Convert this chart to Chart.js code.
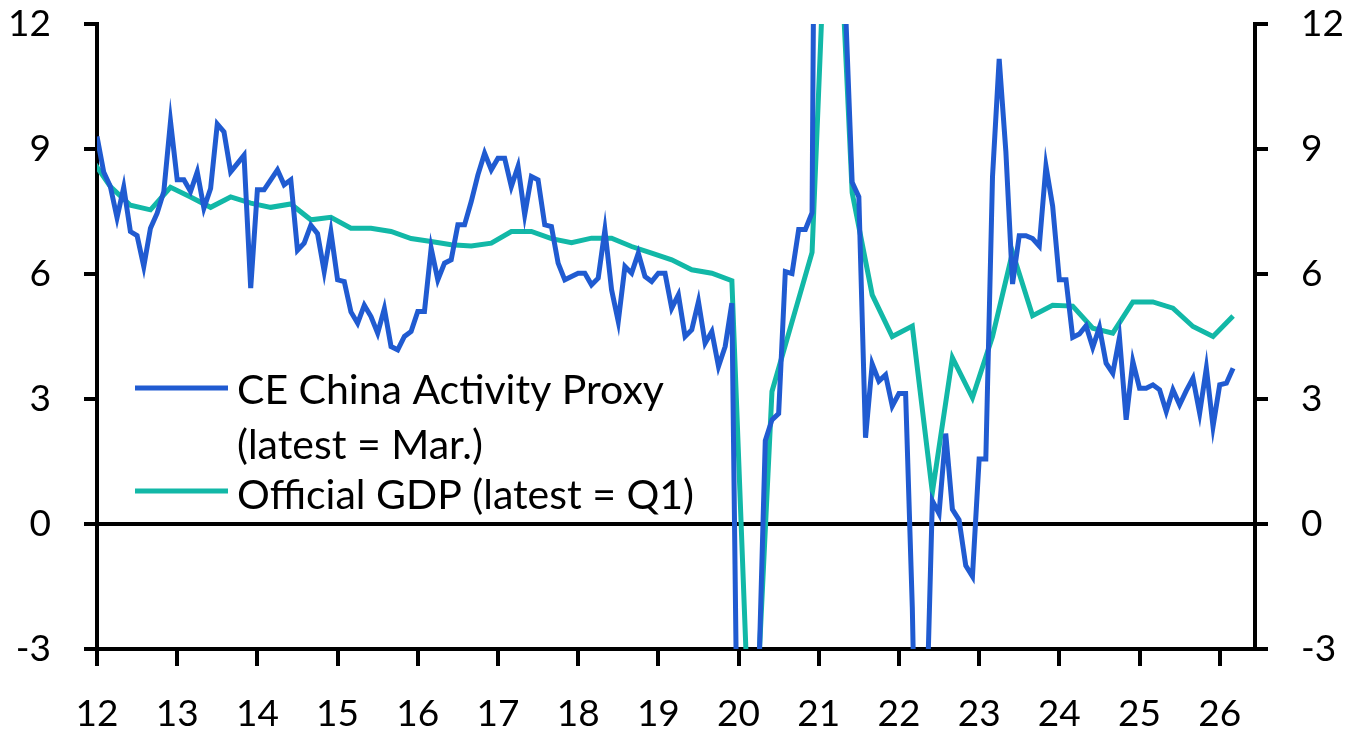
<!DOCTYPE html>
<html>
<head>
<meta charset="utf-8">
<script src="https://cdn.jsdelivr.net/npm/chart.js@4.4.0/dist/chart.umd.min.js"></script>
<style>
  html, body { margin: 0; padding: 0; background: #fff; }
</style>
</head>
<body>
<canvas id="chart" width="1348" height="734"></canvas>
<script>
// DATA (y/y %)
const proxyStartYear = 2012; // monthly, Jan 2012 .. Mar 2026
const proxyValues = [
  9.3, 8.45, 8.1, 7.35, 8.08, 7.02, 6.92, 6.18, 7.1, 7.46, 7.98, 9.66,      // 2012
  8.26, 8.26, 7.98, 8.45, 7.58, 8.05, 9.6, 9.41, 8.45, 8.65, 8.85, 5.66,    // 2013
  8.02, 8.02, 8.26, 8.5, 8.14, 8.26, 6.57, 6.74, 7.17, 6.97, 6.06, 7.01,    // 2014
  5.86, 5.82, 5.09, 4.82, 5.25, 4.98, 4.58, 5.17, 4.26, 4.18, 4.5, 4.62,    // 2015
  5.1, 5.1, 6.62, 5.86, 6.26, 6.34, 7.18, 7.18, 7.74, 8.38, 8.9, 8.5,       // 2016
  8.78, 8.78, 8.1, 8.58, 7.42, 8.34, 8.26, 7.18, 7.14, 6.26, 5.86, 5.94,    // 2017
  6.02, 6.02, 5.74, 5.9, 7.06, 5.62, 4.86, 6.18, 6.02, 6.5, 5.94, 5.82,     // 2018
  6.02, 6.02, 5.18, 5.5, 4.5, 4.66, 5.34, 4.34, 4.62, 3.78, 4.26, 5.3,      // 2019
  -8, -14, -8, -3.8, 2.0, 2.5, 2.65, 6.06, 6.01, 7.07, 7.07, 7.47,          // 2020
  31, 31, 16, 14, 12.4, 8.2, 7.85, 2.07, 3.84, 3.43, 3.58, 2.83,            // 2021
  3.13, 3.13, -2.0, -10, -5.4, 0.56, 0.25, 2.17, 0.35, 0.1, -1.0, -1.26,    // 2022
  1.56, 1.56, 8.33, 11.16, 8.94, 5.76, 6.92, 6.92, 6.85, 6.67, 8.59, 7.63,  // 2023
  5.86, 5.86, 4.48, 4.56, 4.76, 4.24, 4.72, 3.86, 3.62, 4.48, 2.5, 3.9,     // 2024
  3.26, 3.26, 3.34, 3.22, 2.7, 3.22, 2.86, 3.2, 3.5, 2.66, 3.74, 2.34,      // 2025
  3.34, 3.38, 3.74                                                          // 2026
];

const gdpFirstQuarter = [2011, 4]; // quarterly, Q4 2011 .. Q1 2026
const gdpValues = [
  8.8,
  8.1, 7.65, 7.54, 8.08,
  7.85, 7.6, 7.85, 7.7,
  7.6, 7.68, 7.3, 7.36,
  7.1, 7.1, 7.02, 6.85,
  6.78, 6.7, 6.67, 6.74,
  7.02, 7.02, 6.85, 6.75,
  6.86, 6.86, 6.66, 6.5,
  6.34, 6.1, 6.02, 5.84,
  -6.8, 3.18, 4.85, 6.52,
  18.3, 7.95, 5.5, 4.5,
  4.75, 0.76, 3.99, 3.03,
  4.5, 6.52, 5.0, 5.25,
  5.23, 4.7, 4.58, 5.33,
  5.33, 5.18, 4.74, 4.5,
  4.99
];

const xTicksFrom = 2012, xTicksTo = 2026;
const yTicks = [-3, 0, 3, 6, 9, 12];
const legendLabels = [["CE China Activity Proxy", "(latest = Mar.)"], ["Official GDP (latest = Q1)"]];

const BLUE = "#205bd1";
const GREEN = "#12b8a7";
const FONT = "Lato";

// BUILD POINTS
const proxyPoints = proxyValues.map((v, i) => ({ x: proxyStartYear + i / 12, y: v }));
const gdpPoints = gdpValues.map((v, i) => {
  const q = gdpFirstQuarter[1] - 1 + i;
  const year = gdpFirstQuarter[0] + Math.floor(q / 4);
  const month = (q % 4) * 3 + 2; // plotted at quarter-end month
  return { x: year + month / 12, y: v };
});

// LEGEND DRAWN INSIDE THE PLOT
const insideLegend = {
  id: "insideLegend",
  afterDraw(chart) {
    const ctx = chart.ctx;
    ctx.save();
    ctx.font = "41px " + FONT;
    ctx.fillStyle = "#000";
    ctx.textBaseline = "alphabetic";
    ctx.lineWidth = 5;

    ctx.strokeStyle = BLUE;
    ctx.beginPath(); ctx.moveTo(135, 388); ctx.lineTo(228, 388); ctx.stroke();
    ctx.fillText(legendLabels[0][0], 237, 404);
    ctx.fillText(legendLabels[0][1], 237, 459);

    ctx.strokeStyle = GREEN;
    ctx.beginPath(); ctx.moveTo(135, 491); ctx.lineTo(228, 491); ctx.stroke();
    ctx.fillText(legendLabels[1][0], 237, 509);
    ctx.restore();
  }
};

const yAxis = (position, width) => ({
  type: "linear",
  position: position,
  min: yTicks[0],
  max: yTicks[yTicks.length - 1],
  afterBuildTicks: (s) => { s.ticks = yTicks.map(v => ({ value: v })); },
  afterFit: (s) => { s.width = width; s.paddingTop = 0; s.paddingBottom = 0; },
  border: { display: true, color: "#000", width: 4 },
  grid: {
    display: true,
    drawOnChartArea: position === "left",
    drawTicks: true,
    tickLength: 13,
    lineWidth: 4,
    color: (c) => (c.tick && c.tick.value === 0 ? "#000" : "rgba(0,0,0,0)"),
    tickColor: "#000"
  },
  ticks: {
    padding: 33,
    color: "#000",
    font: { family: FONT, size: 37 },
    callback: (v) => String(v)
  }
});

new Chart(document.getElementById("chart"), {
  type: "line",
  data: {
    datasets: [
      {
        label: "CE China Activity Proxy",
        data: proxyPoints,
        borderColor: BLUE,
        borderWidth: 5,
        pointRadius: 0,
        tension: 0,
        clip: 0
      },
      {
        label: "Official GDP",
        data: gdpPoints,
        borderColor: GREEN,
        borderWidth: 5,
        pointRadius: 0,
        tension: 0,
        clip: 0
      }
    ]
  },
  options: {
    responsive: false,
    animation: false,
    devicePixelRatio: 1,
    layout: { padding: { top: 24, left: 0, right: 0, bottom: 0 } },
    plugins: { legend: { display: false }, tooltip: { enabled: false } },
    scales: {
      x: {
        type: "linear",
        min: xTicksFrom,
        max: 2026.44,
        afterFit: (s) => { s.height = 85; s.paddingLeft = 0; s.paddingRight = 0; },
        border: { display: true, color: "#000", width: 4 },
        grid: { display: true, drawOnChartArea: false, drawTicks: true, tickLength: 17, lineWidth: 4, color: "#000" },
        ticks: {
          stepSize: 1,
          includeBounds: false,
          autoSkip: false,
          maxRotation: 0,
          padding: 26,
          color: "#000",
          font: { family: FONT, size: 37 },
          callback: (v) => String(Math.round(v) % 100)
        }
      },
      y: yAxis("left", 97),
      y2: yAxis("right", 93)
    }
  },
  plugins: [insideLegend]
});
</script>
</body>
</html>
